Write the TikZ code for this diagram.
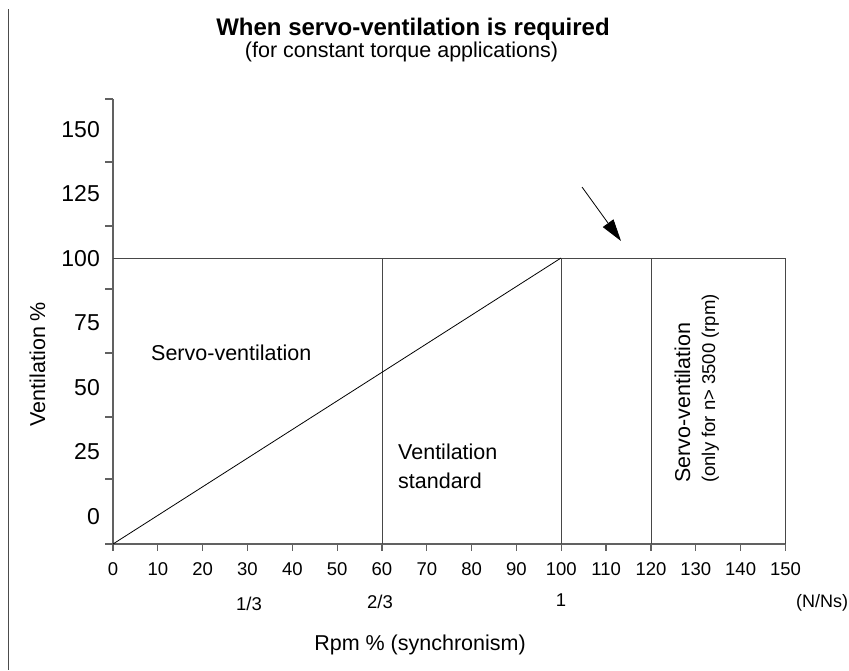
\documentclass[tikz,border=0pt]{standalone}
\usepackage{fontspec}
\setmainfont{Liberation Sans}
\usetikzlibrary{arrows.meta}
\begin{document}
\begin{tikzpicture}[x=1pt,y=-1pt,
  axis/.style={draw=black!62,line width=1.3pt},
  gridline/.style={draw=black!72,line width=1pt},
  ytick/.style={font=\fontsize{23}{27}\selectfont,anchor=base east,inner sep=0pt},
  xtick/.style={font=\fontsize{18.5}{22}\selectfont,anchor=base,inner sep=0pt},
  lbl/.style={font=\fontsize{21.5}{26}\selectfont,inner sep=0pt},
]
\useasboundingbox (0,0) rectangle (849,670);
% left border
\draw[black!70,line width=1pt] (8,9) -- (8,670);
% title
\node[font=\bfseries\fontsize{24}{28}\selectfont,anchor=base,inner sep=0pt] (title) at (413,35) {When servo-ventilation is required};
\node[lbl,anchor=base] (subtitle) at (401.5,57) {(for constant torque applications)};
% axes
\draw[axis] (105,544) -- (785,544);
\draw[axis] (113,99) -- (113,544);
\foreach \y in {99,162,226,289,353,417,479} \draw[axis] (105,\y) -- (113,\y);
\foreach \v in {0,10,...,150} {
  \draw[axis] ({113+4.483*\v},544) -- ++(0,7);
  \node[xtick] (xt\v) at ({113+4.483*\v},575) {\v};
}
\foreach \lab [count=\k from 0] in {150,125,100,75,50,25,0}
  \node[ytick] (yt\lab) at (100,{137+64.5*\k}) {\lab};
% regions
\draw[gridline] (113,258) -- (785,258);
\draw[gridline] (382,258) -- (382,544);
\draw[gridline] (561,258) -- (561,544);
\draw[gridline] (651,258) -- (651,544);
\draw[gridline] (785,258) -- (785,544);
\draw[black,line width=0.8pt] (113,544) -- (561,258);
% arrow
\coordinate (arrS) at (582,187);
\coordinate (arrE) at (621,241);
\draw[black,line width=0.8pt,-{Triangle[length=22pt,width=13pt]}] (arrS) -- (arrE);
% region labels
\node[lbl,anchor=base west] (servo) at (151,360) {Servo-ventilation};
\node[lbl,anchor=base west] (std1) at (398,459) {Ventilation};
\node[lbl,anchor=base west] (std2) at (398,488) {standard};
\node[lbl,rotate=90,anchor=base west] (rot1) at (690,483) {Servo-ventilation};
\node[lbl,font=\fontsize{18.5}{22}\selectfont,rotate=90,anchor=base west] (rot2) at (715,483) {(only for n> 3500 (rpm)};
% fractions
\node[xtick] (f13) at (249,610) {1/3};
\node[xtick] (f23) at (380,608) {2/3};
\node[xtick] (f1) at (561,606) {1};
\node[xtick,font=\fontsize{18}{22}\selectfont,anchor=base west] (nns) at (796,607) {(N/Ns)};
% axis labels
\node[lbl,anchor=base] (xlab) at (420,650) {Rpm \% (synchronism)};
\node[lbl,rotate=90,anchor=base] (ylab) at (45,364) {Ventilation \%};
\end{tikzpicture}
\end{document}
